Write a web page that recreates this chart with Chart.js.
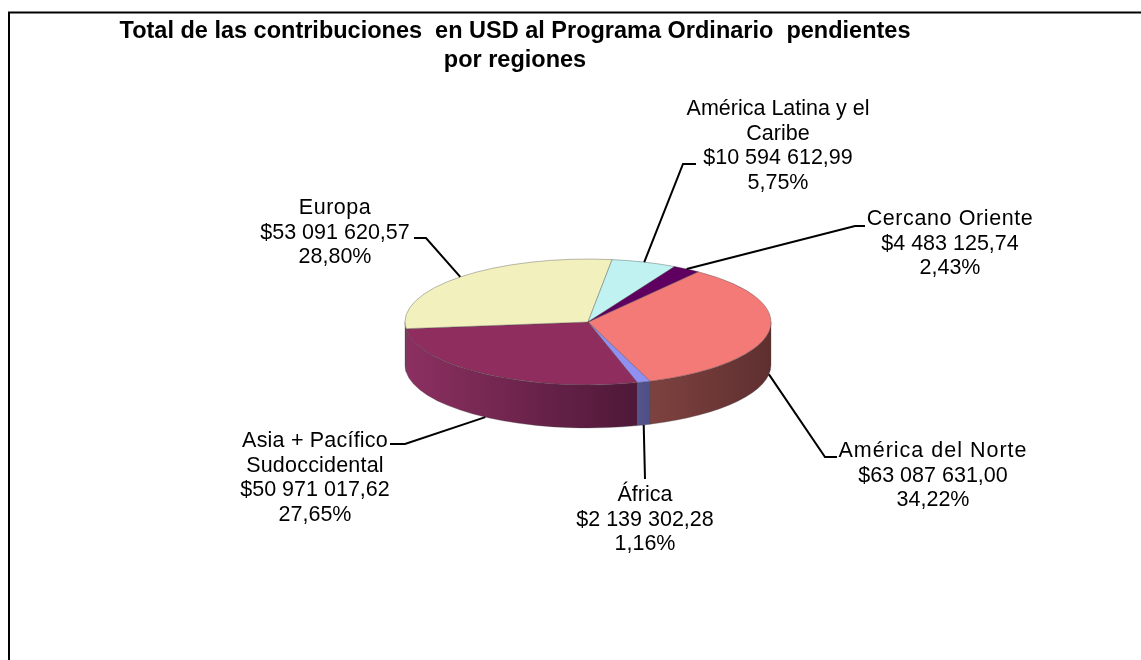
<!DOCTYPE html>
<html>
<head>
<meta charset="utf-8">
<style>
    html, body { margin: 0; padding: 0; background: #fff; }
    canvas { display: block; }
</style>
<script src="https://cdn.jsdelivr.net/npm/chart.js@4"></script>
</head>
<body>
<canvas id="pendientes" width="1141" height="660"></canvas>
<script>
// datos, en el orden de las agujas del reloj
const categories = [
    ["América del Norte"],
    ["África"],
    ["Asia + Pacífico", "Sudoccidental"],
    ["Europa"],
    ["América Latina y el", "Caribe"],
    ["Cercano Oriente"],
];
const amounts = [63087631.0, 2139302.28, 50971017.62, 53091620.57, 10594612.99, 4483125.74];
const amountLabels = ["$63 087 631,00", "$2 139 302,28", "$50 971 017,62", "$53 091 620,57", "$10 594 612,99", "$4 483 125,74"];
const percentLabels = ["34,22%", "1,16%", "27,65%", "28,80%", "5,75%", "2,43%"];
const titleLines = ["Total de las contribuciones  en USD al Programa Ordinario  pendientes", "por regiones"];

const topColors = ["#f47a78", "#9090f2", "#8f2d5f", "#f2f0bd", "#bff2f0", "#5f0060"];
const wallColors = [
    ["#7d423f", "#5f2f30"],
    ["#54548e", "#4f4f86"],
    ["#8c3061", "#4e1838"],
    ["#8c3061", "#8c3061"],
    ["#8c8c6e", "#8c8c6e"],
    ["#3a003a", "#3a003a"],
];

// posicion de los rotulos: centro del texto, primera linea base, codo y final de la guia
const labelLayout = [
    { x: 933, y: 457, spacing: 1, leader: [[825, 457], [837, 457]] },
    { x: 645, y: 501, spacing: 0, leader: [[645, 479]] },
    { x: 315, y: 447, spacing: 0.2, leader: [[405, 444], [390, 444]] },
    { x: 335, y: 214, spacing: 0.5, leader: [[426, 238], [414, 238]] },
    { x: 778, y: 115, spacing: 0, leader: [[683, 164], [696, 164]] },
    { x: 950, y: 225, spacing: 0.6, leader: [[855, 226], [865, 226]] },
];

const RADIUS = 183;
const SQUASH = 0.344;
const DEPTH = 43;
const LINE_HEIGHT = 24.5;

function arcProps(chart, i) {
    return chart.getDatasetMeta(0).data[i].getProps(["x", "y", "startAngle", "endAngle", "outerRadius"], true);
}

const pie3d = {
    id: "pie3d",
    beforeDatasetsDraw(chart) {
        const ctx = chart.ctx;
        const meta = chart.getDatasetMeta(0);
        meta.data.forEach(function (el, i) {
            const p = arcProps(chart, i);
            const ry = p.outerRadius * SQUASH;
            [-2 * Math.PI, 0, 2 * Math.PI].forEach(function (k) {
                const a0 = Math.max(p.startAngle + k, 0);
                const a1 = Math.min(p.endAngle + k, Math.PI);
                if (a1 <= a0) return;
                const x0 = p.x + p.outerRadius * Math.cos(a1);
                const x1 = p.x + p.outerRadius * Math.cos(a0);
                const grad = ctx.createLinearGradient(x0, 0, x1, 0);
                grad.addColorStop(0, wallColors[i][0]);
                grad.addColorStop(1, wallColors[i][1]);
                ctx.beginPath();
                ctx.ellipse(p.x, p.y, p.outerRadius, ry, 0, a0, a1);
                ctx.ellipse(p.x, p.y + DEPTH, p.outerRadius, ry, 0, a1, a0, true);
                ctx.closePath();
                ctx.fillStyle = grad;
                ctx.fill();
                ctx.strokeStyle = "rgba(70,70,70,0.3)";
                ctx.lineWidth = 1;
                ctx.stroke();
            });
        });
        // la cara superior se dibuja aplastada
        const first = arcProps(chart, 0);
        ctx.save();
        ctx.translate(first.x, first.y);
        ctx.scale(1, SQUASH);
        ctx.translate(-first.x, -first.y);
    },
    afterDatasetsDraw(chart) {
        chart.ctx.restore();
    },
    afterDraw(chart) {
        const ctx = chart.ctx;
        // marco
        ctx.strokeStyle = "#000";
        ctx.lineWidth = 2;
        ctx.beginPath();
        ctx.moveTo(9, 660);
        ctx.lineTo(9, 12.5);
        ctx.lineTo(1141, 12.5);
        ctx.stroke();

        ctx.fillStyle = "#000";
        ctx.textAlign = "center";
        ctx.textBaseline = "alphabetic";
        ctx.font = "bold 23.5px 'Liberation Sans', Arial, sans-serif";
        ctx.fillText(titleLines[0], 515, 38);
        ctx.fillText(titleLines[1], 515, 67);

        ctx.font = "21.5px 'Liberation Sans', Arial, sans-serif";
        labelLayout.forEach(function (l, i) {
            const p = arcProps(chart, i);
            const mid = (p.startAngle + p.endAngle) / 2;
            const sx = p.x + p.outerRadius * Math.cos(mid);
            let sy = p.y + p.outerRadius * SQUASH * Math.sin(mid);
            if (Math.sin(mid) > 0) sy += DEPTH;
            ctx.lineWidth = 2;
            ctx.beginPath();
            ctx.moveTo(sx, sy);
            l.leader.forEach(function (pt) { ctx.lineTo(pt[0], pt[1]); });
            ctx.stroke();

            const names = categories[i];
            const lines = names.concat([amountLabels[i], percentLabels[i]]);
            lines.forEach(function (t, n) {
                ctx.letterSpacing = n < names.length ? l.spacing + "px" : "0px";
                ctx.fillText(t, l.x, l.y + n * LINE_HEIGHT);
            });
            ctx.letterSpacing = "0px";
        });
    },
};

new Chart(document.getElementById("pendientes"), {
    type: "pie",
    data: {
        labels: categories.map(function (c) { return c.join(" "); }),
        datasets: [
            {
                data: amounts,
                backgroundColor: topColors,
                borderColor: "rgba(70,70,70,0.55)",
                borderWidth: 1,
            },
        ],
    },
    options: {
        responsive: false,
        animation: false,
        rotation: 37,
        radius: RADIUS,
        layout: { padding: { left: 35, bottom: 16 } },
        plugins: {
            legend: { display: false },
            tooltip: { enabled: false },
        },
    },
    plugins: [pie3d],
});
</script>
</body>
</html>
